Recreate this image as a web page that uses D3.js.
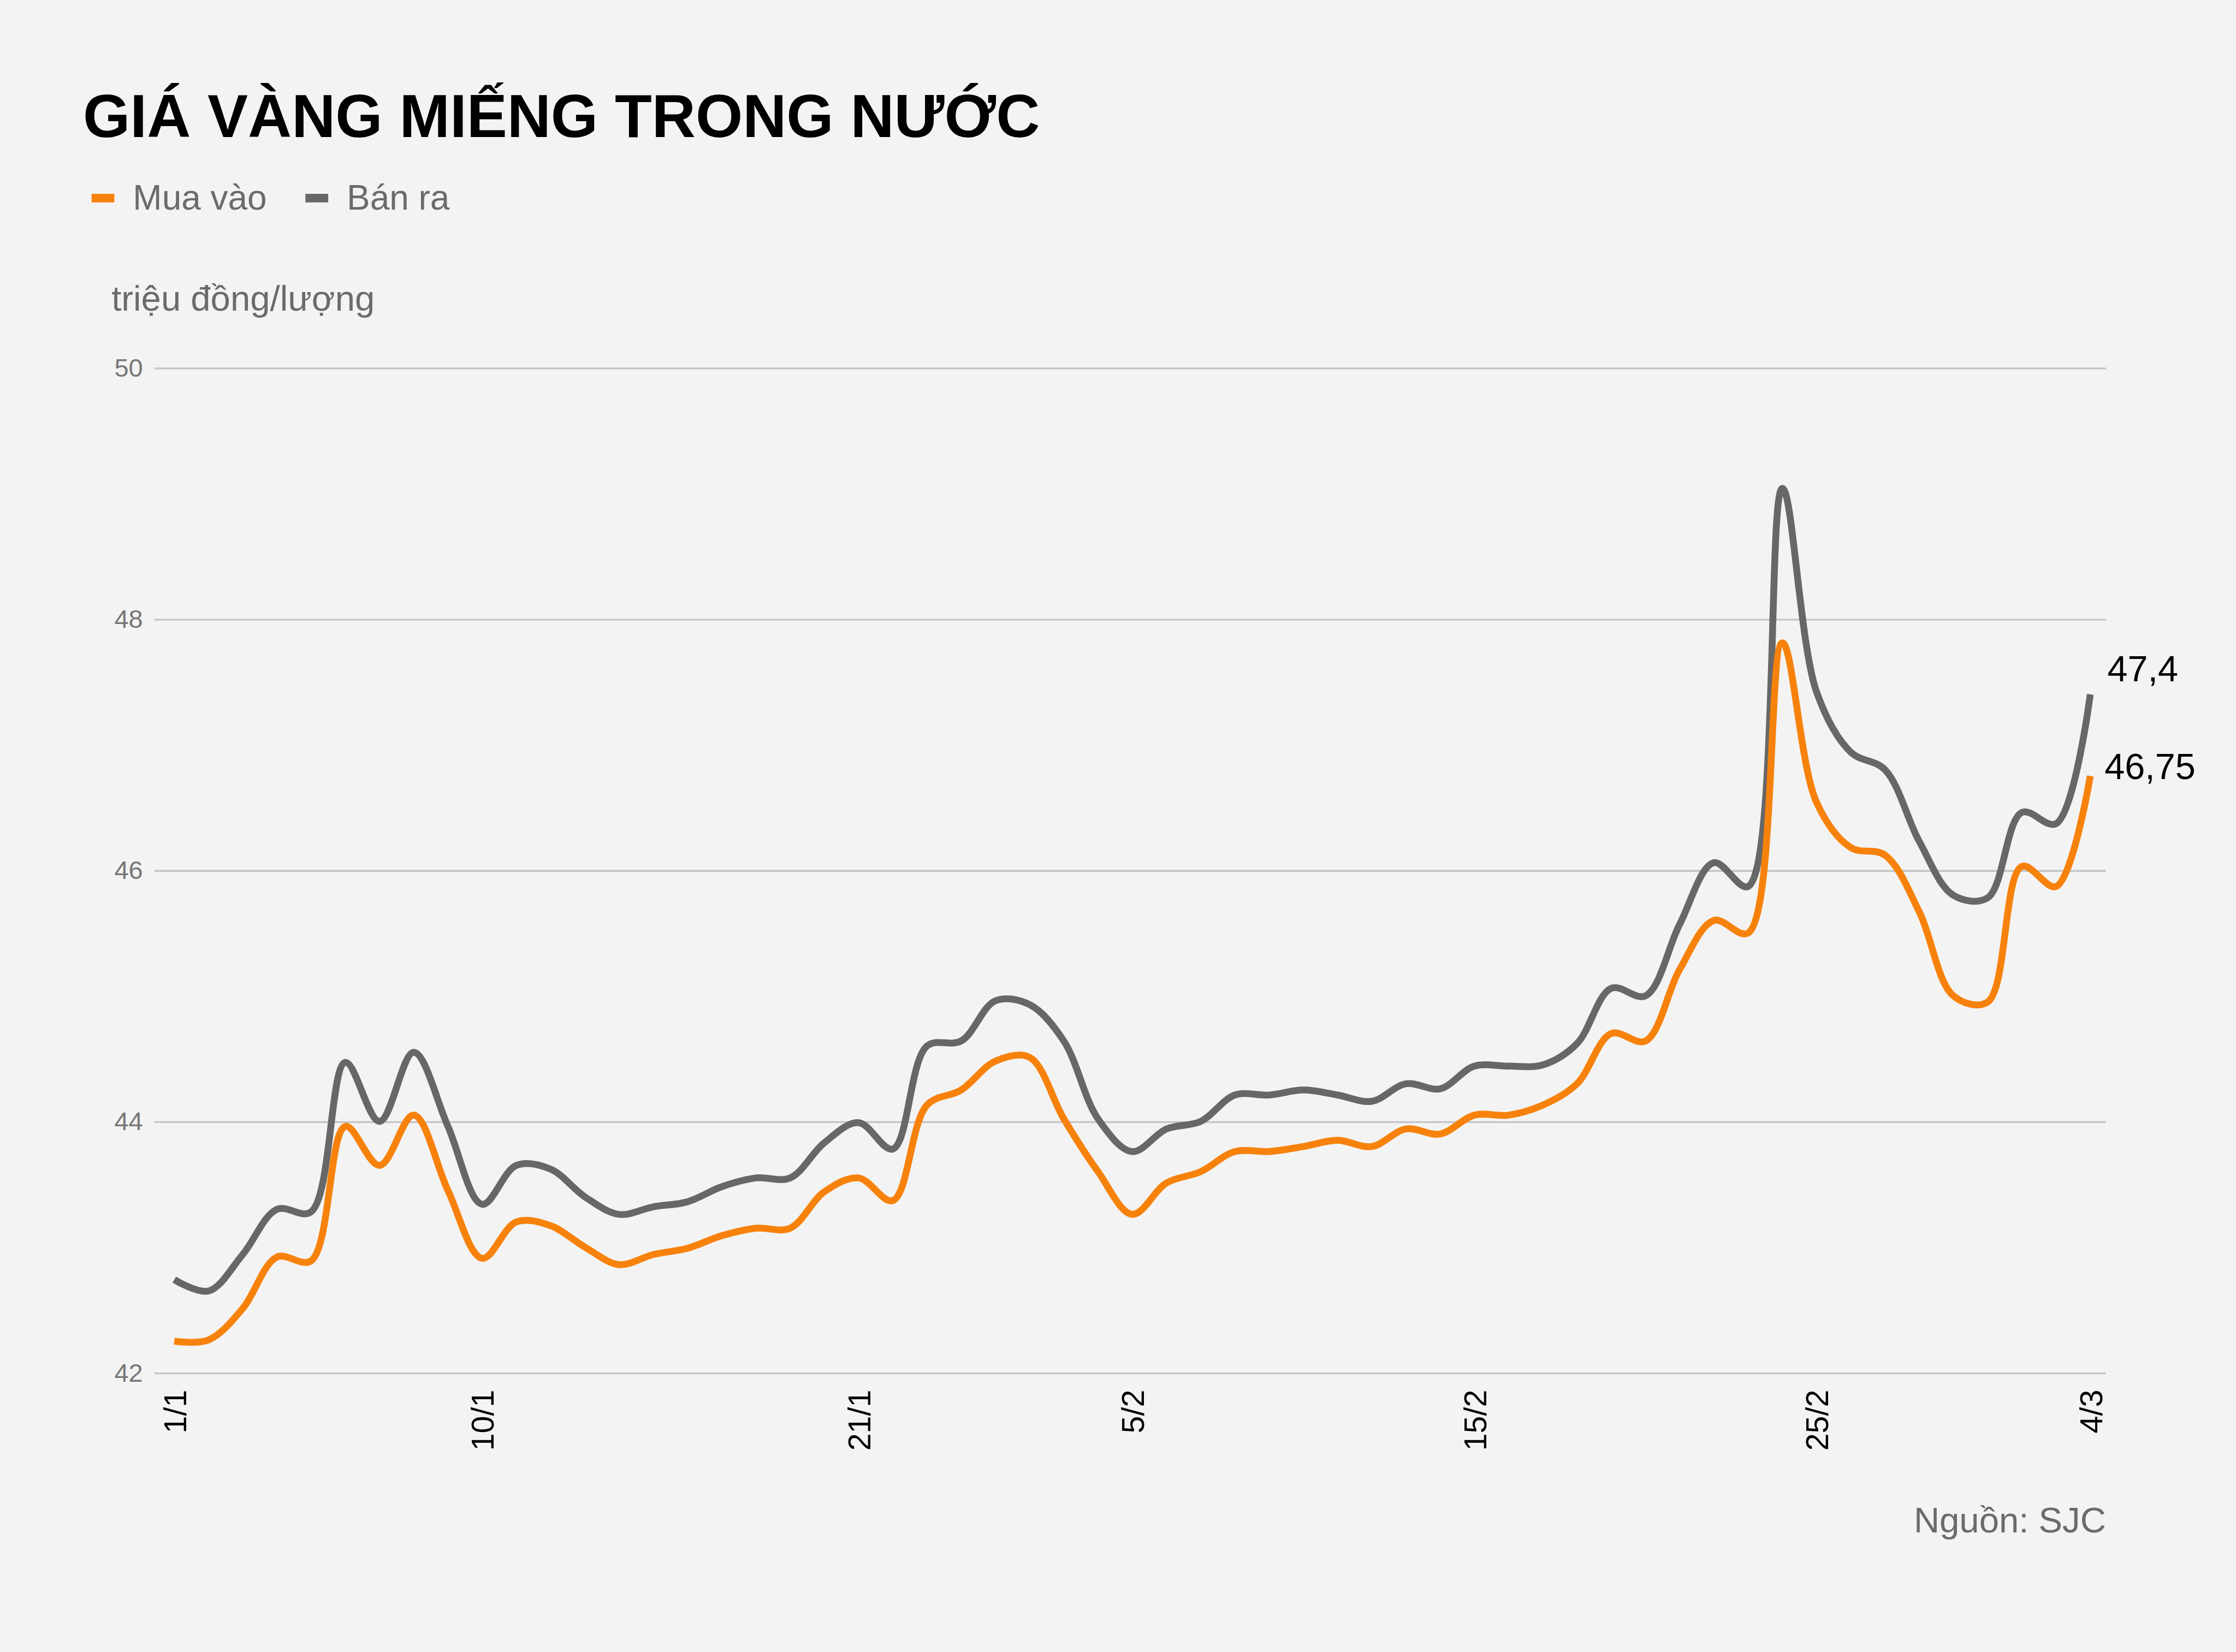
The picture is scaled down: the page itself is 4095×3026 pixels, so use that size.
<!DOCTYPE html>
<html><head><meta charset="utf-8">
<script src="https://cdn.jsdelivr.net/npm/d3@7"></script>
<style>
html,body{margin:0;padding:0;background:#f3f3f3;}
svg{display:block;}
text{font-family:"Liberation Sans",Arial,sans-serif;}
</style></head>
<body>
<svg id="chart" width="4095" height="3026" viewBox="0 0 1568 1159"></svg>
<script>
const dates = ["1/1","2/1","3/1","4/1","5/1","6/1","7/1","8/1","9/1","10/1","11/1","12/1","13/1","14/1","15/1","16/1","17/1","18/1","19/1","20/1","21/1","22/1","30/1","31/1","1/2","2/2","3/2","4/2","5/2","6/2","7/2","8/2","9/2","10/2","11/2","12/2","13/2","14/2","15/2","16/2","17/2","18/2","19/2","20/2","21/2","22/2","23/2","24/2","25/2","26/2","27/2","28/2","29/2","1/3","2/3","3/3","4/3"];
const muaVao = [42.25,42.26,42.51,42.92,42.89,43.96,43.65,44.05,43.45,42.91,43.2,43.17,43.0,42.86,42.94,42.99,43.09,43.15,43.15,43.44,43.55,43.37,44.13,44.25,44.48,44.51,44.02,43.6,43.26,43.51,43.6,43.76,43.76,43.8,43.85,43.8,43.94,43.9,44.05,44.05,44.13,44.3,44.7,44.64,45.21,45.6,45.5,47.81,46.54,46.18,46.12,45.67,45.0,44.95,46.03,45.87,46.75];
const banRa = [42.74,42.65,42.94,43.3,43.28,44.47,44.0,44.55,43.96,43.34,43.65,43.62,43.4,43.26,43.32,43.36,43.48,43.55,43.55,43.83,43.99,43.78,44.6,44.64,44.96,44.93,44.64,44.02,43.76,43.94,44.0,44.21,44.21,44.25,44.21,44.16,44.3,44.26,44.44,44.44,44.45,44.62,45.06,45.0,45.57,46.06,45.87,49.04,47.42,46.94,46.8,46.23,45.8,45.78,46.46,46.37,47.4];
const yTicks = [42,44,46,48,50];
const xTickLabels = ["1/1","10/1","21/1","5/2","15/2","25/2","4/3"];
const seriesNames = ["Mua vào","Bán ra"];
const seriesColors = ["#f7820b","#676767"];
const endLabels = ["46,75","47,4"];

const svg = d3.select("#chart");
svg.append("rect").attr("width",1568).attr("height",1159).attr("fill","#f3f3f3");

const x = d3.scalePoint().domain(dates).range([122,1466]);
const y = d3.scaleLinear().domain([42,50]).range([963,258]);

// title
svg.append("text").attr("x",58).attr("y",96).attr("font-size",42.5).attr("font-weight","bold")
  .attr("fill","#000").text("GIÁ VÀNG MIẾNG TRONG NƯỚC");

// legend
const lg = svg.append("g");
const legX = [64,214];
seriesNames.forEach((n,i)=>{
  lg.append("rect").attr("x",legX[i]).attr("y",136).attr("width",16).attr("height",6).attr("fill",seriesColors[i]);
  lg.append("text").attr("x",legX[i]+29).attr("y",147).attr("font-size",24.5).attr("fill","#6b6b6b").text(n);
});

svg.append("text").attr("x",78).attr("y",218).attr("font-size",25).attr("fill","#6b6b6b").text("triệu đồng/lượng");

// grid + y axis
const yAxis = d3.axisLeft(y).tickValues(yTicks).tickSize(-(1477-108)).tickPadding(8).tickFormat(d3.format("d"));
const gy = svg.append("g").attr("transform","translate(108,0)").call(yAxis);
gy.select(".domain").remove();
gy.selectAll(".tick line").attr("stroke","#c4c4c4").attr("stroke-width",1.3);
gy.selectAll(".tick text").attr("font-size",18).attr("fill","#777").attr("font-family","'Liberation Sans',Arial,sans-serif");

// x axis
const xAxis = d3.axisBottom(x).tickValues(xTickLabels).tickSize(0).tickPadding(0);
const gx = svg.append("g").attr("transform","translate(0,963)").call(xAxis);
gx.select(".domain").remove();
gx.selectAll(".tick text").attr("font-size",22).attr("fill","#000")
  .attr("font-family","'Liberation Sans',Arial,sans-serif")
  .attr("transform","rotate(-90)").attr("text-anchor","end").attr("dx","-12").attr("dy","0.35em").attr("y",0).attr("x",0);

// lines
const line = d3.line().x((d,i)=>x(dates[i])).y(d=>y(d)).curve(d3.curveCatmullRom.alpha(0.5));
const data = [muaVao, banRa];
[1,0].forEach(k=>{
  svg.append("path").attr("d",line(data[k])).attr("fill","none")
    .attr("stroke",seriesColors[k]).attr("stroke-width",4.8).attr("stroke-linejoin","round");
});

// end labels
svg.append("text").attr("x",1478).attr("y",y(banRa[banRa.length-1])-9).attr("font-size",25.5).attr("fill","#000").text(endLabels[1]);
svg.append("text").attr("x",1476).attr("y",y(muaVao[muaVao.length-1])+2).attr("font-size",25.5).attr("fill","#000").text(endLabels[0]);

// source
svg.append("text").attr("x",1477).attr("y",1075).attr("text-anchor","end").attr("font-size",25).attr("fill","#6b6b6b").text("Nguồn: SJC");
</script>
</body></html>
